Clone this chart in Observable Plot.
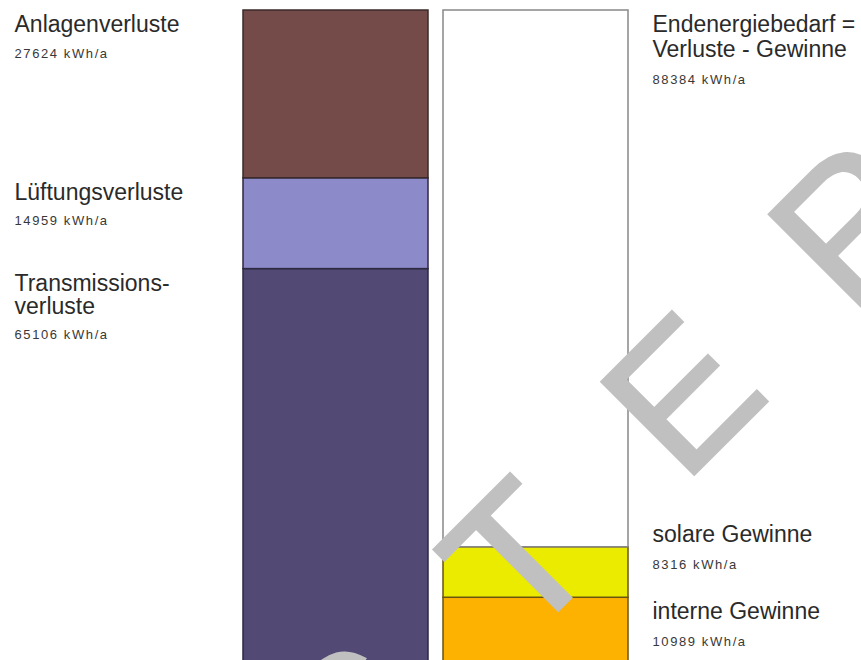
<!DOCTYPE html>
<html>
<head>
<meta charset="utf-8">
<script src="https://cdn.jsdelivr.net/npm/d3@7"></script>
<script src="https://cdn.jsdelivr.net/npm/@observablehq/plot@0.6"></script>
<style>
  html, body { margin: 0; padding: 0; background: #fff; overflow: hidden; }
  #chart svg { display: block; overflow: hidden; }
  g[aria-description="kennwert"] { letter-spacing: 1.6px; }
  g[aria-description="wasserzeichen"] { letter-spacing: 110px; }
</style>
</head>
<body>
<div id="chart"></div>
<script>
// Energy balance: losses (left column) vs. gains + final energy demand (right column), kWh/a
const columns = ["Verluste", "Bilanz"];
const lossNames = ["Transmissions-\nverluste", "Lüftungsverluste", "Anlagenverluste"];
const lossValues = [65106, 14959, 27624];
const balanceNames = ["interne Gewinne", "solare Gewinne", "Endenergiebedarf =\nVerluste - Gewinne"];
const balanceValues = [10989, 8316, 88384];
const unit = "kWh/a";
const watermark = "MUSTER";

// segment colours
const fills = {
  "Transmissions-\nverluste": "#524a75",
  "Lüftungsverluste": "#8c8ac8",
  "Anlagenverluste": "#754b4a",
  "interne Gewinne": "#fdb100",
  "solare Gewinne": "#ebeb00",
  "Endenergiebedarf =\nVerluste - Gewinne": "#ffffff"
};
const strokes = {
  "Transmissions-\nverluste": "#2e2840",
  "Lüftungsverluste": "#2e2840",
  "Anlagenverluste": "#3a2a2a",
  "interne Gewinne": "#6a5410",
  "solare Gewinne": "#6a5410",
  "Endenergiebedarf =\nVerluste - Gewinne": "#888888"
};
// vertical nudge (px) for labels that sit above their segment
const nudge = {"solare Gewinne": -26.5};

function rowsFor(column, names, values) {
  const tops = Array.from(d3.cumsum(values));
  return names.map((name, i) => ({
    column, name, value: values[i],
    bottom: tops[i] - values[i], top: tops[i],
    lines: name.split("\n").length
  }));
}
const lossRows = rowsFor(columns[0], lossNames, lossValues);
const balanceRows = rowsFor(columns[1], balanceNames, balanceValues);
const rows = [...lossRows, ...balanceRows];
const total = d3.max(rows, d => d.top);

const font = "'Liberation Sans', Arial, Helvetica, sans-serif";
const nameSize = 23;

function labelMarks(r, side) {
  const right = side === "right";
  const lh = right ? 25 : 23;      // line pitch of the name
  const vgap = right ? 27 : 25.5;  // name baseline -> value baseline
  const base = 21.5 + (nudge[r.name] ?? 0);
  const pos = right
    ? {x: () => columns[1], dx: 116.5}
    : {frameAnchor: "left", dx: 14};
  return [
    Plot.text([r], {
      ...pos, y: "top", text: "name",
      textAnchor: "start", lineAnchor: "top", lineHeight: lh / nameSize,
      fontSize: nameSize, fontFamily: font, fill: "#2a2a2a",
      dy: base - 0.71 * lh
    }),
    Plot.text([r], {
      ...pos, y: "top", text: d => `${d.value} ${unit}`,
      textAnchor: "start", lineAnchor: "bottom",
      fontSize: 13, fontFamily: font, fill: "#383838",
      ariaDescription: "kennwert",
      dy: base + (r.lines - 1) * lh + vgap
    })
  ];
}

const chart = Plot.plot({
  width: 861,
  height: 660,
  margin: 0,
  style: {fontFamily: font, background: "#ffffff"},
  x: {type: "band", domain: columns, range: [243, 628], paddingInner: 0.075, paddingOuter: 0, axis: null},
  y: {domain: [0, total], range: [664, 10], axis: null},
  marks: [
    Plot.rectY(rows, {
      x: "column", y1: "bottom", y2: "top",
      fill: d => fills[d.name], stroke: d => strokes[d.name],
      strokeWidth: 1.5
    }),
    ...lossRows.flatMap(r => labelMarks(r, "left")),
    ...balanceRows.flatMap(r => labelMarks(r, "right")),
    Plot.text([watermark], {
      frameAnchor: "top-left", dx: -9, dy: 1176.5, rotate: -45,
      text: d => d, textAnchor: "start", lineAnchor: "bottom",
      fontSize: 190, fontFamily: font, fill: "#c0c0c0",
      stroke: "#c0c0c0", strokeWidth: 3, strokeLinejoin: "miter",
      ariaDescription: "wasserzeichen"
    })
  ]
});
document.getElementById("chart").append(chart);
</script>
</body>
</html>
